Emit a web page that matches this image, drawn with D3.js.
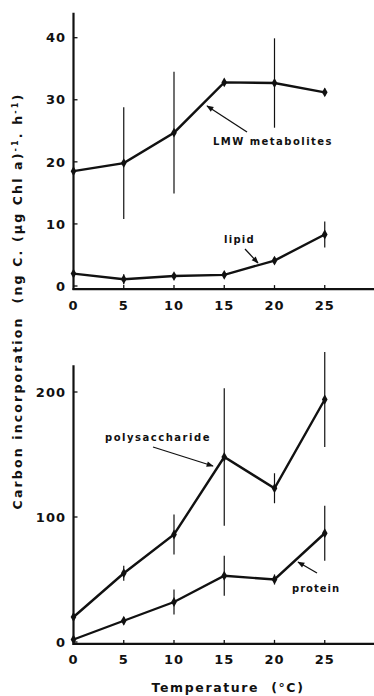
<!DOCTYPE html>
<html><head><meta charset="utf-8">
<script src="https://cdn.jsdelivr.net/npm/d3@7"></script>
<style>
html,body{margin:0;padding:0;background:#fff;}
svg text{font-family:"DejaVu Sans",sans-serif;font-weight:bold;fill:#111;white-space:pre;}
</style></head>
<body><svg id="c" width="374" height="696"></svg>
<script>
const temps = [0,5,10,15,20,25];
const xTicks = [0,5,10,15,20,25];
// top panel
const lmw = [18.5,19.8,24.7,32.8,32.7,31.2];
const lmwErr = [0,9,9.8,0,7.2,0.6];
const lipid = [2.0,1.1,1.6,1.8,4.1,8.3];
const lipidErr = [0,0.8,0.5,0,0.6,2.1];
const topTicks = [0,10,20,30,40];
// bottom panel
const poly = [20,55,86,148,123,194];
const polyErr = [0,6,16,55,12,38];
const protein = [2,17,32,53,50,87];
const proteinErr = [0,3,10,16,4,22];
const botTicks = [0,100,200];

const svg = d3.select("#c");
const ink = "#111";

function fit(sel, target){
  const n = sel.text().length;
  const len = sel.node().getComputedTextLength();
  sel.attr("letter-spacing", ((target - len)/ n).toFixed(2));
}

function panel(o){
  const x = d3.scaleLinear().domain([0,30]).range([73.5,375]);
  const y = d3.scaleLinear().domain(o.ydom).range(o.yrange);
  const g = svg.append("g");
  const yb = y(o.axisMin), yt = y(o.axisMax);
  g.append("line").attr("x1",x(0)).attr("x2",x(0)).attr("y1",yb+1).attr("y2",yt).attr("stroke",ink).attr("stroke-width",2.2);
  g.append("line").attr("x1",x(0)-1).attr("x2",374).attr("y1",yb).attr("y2",yb).attr("stroke",ink).attr("stroke-width",2.2);
  o.ticks.forEach(t=>{
    g.append("line").attr("x1",x(0)).attr("x2",x(0)+4).attr("y1",y(t)).attr("y2",y(t)).attr("stroke",ink).attr("stroke-width",1.3);
    g.append("text").attr("x",66).attr("y",y(t)).attr("dy","0.36em").attr("text-anchor","end")
      .attr("font-size",13).attr("letter-spacing",1).text(t);
  });
  xTicks.forEach(t=>{
    if(t>0) g.append("line").attr("x1",x(t)).attr("x2",x(t)).attr("y1",yb).attr("y2",yb-4).attr("stroke",ink).attr("stroke-width",1.3);
    g.append("text").attr("x",x(t)).attr("y",o.xlabY).attr("dy","0.36em").attr("text-anchor","middle")
      .attr("font-size",13).attr("letter-spacing",1).text(t);
  });
  o.series.forEach(s=>{
    temps.forEach((t,i)=>{
      if(s.err[i]>0) g.append("line").attr("x1",x(t)).attr("x2",x(t))
        .attr("y1",y(s.vals[i]-s.err[i])).attr("y2",y(s.vals[i]+s.err[i]))
        .attr("stroke",ink).attr("stroke-width",1.2);
    });
    const line = d3.line().x((d,i)=>x(temps[i])).y(d=>y(d));
    g.append("path").attr("d",line(s.vals)).attr("fill","none").attr("stroke",ink).attr("stroke-width",2.4);
    g.selectAll(null).data(s.vals).join("path")
      .attr("transform",(d,i)=>`translate(${x(temps[i])},${y(d)})`)
      .attr("d",d3.symbol(d3.symbolDiamond,28)).attr("fill",ink);
  });
  return {x,y,g};
}

svg.append("defs").append("marker").attr("id","ah").attr("viewBox","0 0 10 10").attr("refX",9).attr("refY",5)
  .attr("markerWidth",9).attr("markerHeight",7).attr("markerUnits","userSpaceOnUse").attr("orient","auto")
  .append("path").attr("d","M0,1 L10,5 L0,9 Z").attr("fill",ink);

function arrow(g,x1,y1,x2,y2){
  g.append("line").attr("x1",x1).attr("y1",y1).attr("x2",x2).attr("y2",y2)
   .attr("stroke",ink).attr("stroke-width",1.3).attr("marker-end","url(#ah)");
}
function label(g,txt,xl,yc,w){
  const t = g.append("text").attr("x",xl).attr("y",yc).attr("dy","0.36em").attr("font-size",10).text(txt);
  fit(t,w);
}

const topP = panel({ydom:[0,40], yrange:[286,37.7], axisMin:-0.5, axisMax:44, ticks:topTicks, xlabY:305,
  series:[{vals:lmw,err:lmwErr},{vals:lipid,err:lipidErr}]});
label(topP.g,"LMW metabolites",213,141,120);
arrow(topP.g,247,132,207,106);
label(topP.g,"lipid",224,239,31);
arrow(topP.g,245,249,258,263);

const botP = panel({ydom:[0,200], yrange:[642,392], axisMin:-1.5, axisMax:221.5, ticks:botTicks, xlabY:659,
  series:[{vals:poly,err:polyErr},{vals:protein,err:proteinErr}]});
label(botP.g,"polysaccharide",105,437,106);
arrow(botP.g,153,447,213,466);
label(botP.g,"protein",292,588,48);
arrow(botP.g,317,573,298,562);

const xt = svg.append("text").attr("x",228).attr("y",687).attr("dy","0.36em").attr("text-anchor","middle")
  .attr("font-size",12.5).text("Temperature  (°C)");
fit(xt,153);

const ytl = svg.append("text").attr("transform","translate(22,301) rotate(-90)").attr("text-anchor","middle")
  .attr("font-size",12.5);
ytl.append("tspan").text("Carbon incorporation  (ng C. (µg Chl a)");
ytl.append("tspan").attr("font-size",8).attr("baseline-shift","super").text("-1");
ytl.append("tspan").text(". h");
ytl.append("tspan").attr("font-size",8).attr("baseline-shift","super").text("-1");
ytl.append("tspan").text(")");
{
  const n = ytl.text().length;
  const len = ytl.node().getComputedTextLength();
  ytl.attr("letter-spacing", ((417-len)/n).toFixed(2));
}
</script></body></html>
